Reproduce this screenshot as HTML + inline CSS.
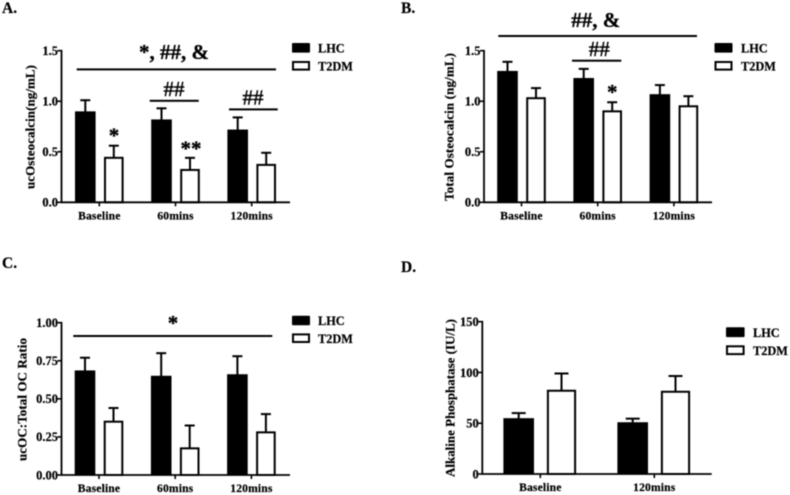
<!DOCTYPE html>
<html lang="en">
<head>
<meta charset="utf-8">
<title>Osteocalcin charts</title>
<style>
html,body{margin:0;padding:0;background:#fff;width:790px;height:495px;overflow:hidden}
svg{display:block;filter:blur(0.4px)}
text{font-family:"Liberation Serif",serif;font-weight:bold;fill:#000;stroke:#000;stroke-width:.2px}
.tick{font-size:12.5px}
.cat{font-size:11.6px;letter-spacing:.15px}
.ttl{font-size:13px}
.leg{font-size:12.3px}
.pan{font-size:15.5px}
.sig{font-size:21px;font-weight:normal;stroke-width:.45px}
.sigb{font-size:21px;stroke-width:.3px}
</style>
</head>
<body>
<svg id="fig" width="790" height="495" viewBox="0 0 790 495" xmlns="http://www.w3.org/2000/svg">
  <rect width="790" height="495" fill="#fff"/>

  <text class="pan" x="2" y="13">A.</text>
  <text class="pan" x="401" y="13">B.</text>
  <text class="pan" x="2" y="268">C.</text>
  <text class="pan" x="401" y="272">D.</text>

  <text class="ttl" transform="translate(34.5,189) rotate(-90)" textLength="124" lengthAdjust="spacing">ucOsteocalcin(ng/mL)</text>
  <text class="ttl" transform="translate(453.5,201) rotate(-90)" textLength="148" lengthAdjust="spacing">Total Osteocalcin (ng/mL)</text>
  <text class="ttl" transform="translate(26.5,461) rotate(-90)" textLength="123" lengthAdjust="spacing">ucOC:Total OC Ratio</text>
  <text class="ttl" transform="translate(454.5,477) rotate(-90)" textLength="158" lengthAdjust="spacing">Alkaline Phosphatase (IU/L)</text>

  <g>
    <rect x="292" y="43" width="18" height="9.6" rx="1" fill="#000"/>
    <text class="leg" x="318" y="52.5">LHC</text>
    <rect x="293" y="62" width="16" height="7.6" fill="#fff" stroke="#000" stroke-width="2"/>
    <text class="leg" x="318" y="70.5">T2DM</text>
  </g>
  <g>
    <rect x="714.5" y="43" width="18" height="9.6" rx="1" fill="#000"/>
    <text class="leg" x="741" y="52.5">LHC</text>
    <rect x="715.5" y="62" width="16" height="7.6" fill="#fff" stroke="#000" stroke-width="2"/>
    <text class="leg" x="741" y="70.5">T2DM</text>
  </g>
  <g>
    <rect x="292" y="315.7" width="18" height="9.6" rx="1" fill="#000"/>
    <text class="leg" x="318" y="325">LHC</text>
    <rect x="293" y="334.4" width="16" height="7.6" fill="#fff" stroke="#000" stroke-width="2"/>
    <text class="leg" x="318" y="343">T2DM</text>
  </g>
  <g>
    <rect x="726" y="327.3" width="18.6" height="9.8" rx="1" fill="#000"/>
    <text class="leg" x="753" y="337">LHC</text>
    <rect x="727" y="346.3" width="16.6" height="7.8" fill="#fff" stroke="#000" stroke-width="2"/>
    <text class="leg" x="753" y="355">T2DM</text>
  </g>

  <g>
    <text class="sigb" x="174" y="59" text-anchor="middle">*, ##, &amp;</text>
    <rect x="76.7" y="68.4" width="199.3" height="2" fill="#000"/>
    <text class="sig" x="174" y="96" text-anchor="middle">##</text>
    <rect x="149.7" y="99.8" width="49" height="2" fill="#000"/>
    <text class="sig" x="253" y="104.5" text-anchor="middle">##</text>
    <rect x="229" y="108.4" width="48.7" height="2" fill="#000"/>
    <text class="sigb" x="114" y="142.5" text-anchor="middle">*</text>
    <text class="sigb" x="191" y="155.5" text-anchor="middle">**</text>
  </g>
  <g>
    <text class="sigb" x="595.7" y="27" text-anchor="middle">##, &amp;</text>
    <rect x="498.3" y="35" width="198.7" height="2" fill="#000"/>
    <text class="sig" x="599.3" y="56" text-anchor="middle">##</text>
    <rect x="572" y="59.7" width="49.3" height="2" fill="#000"/>
    <text class="sigb" x="612.3" y="98.8" text-anchor="middle">*</text>
  </g>
  <g>
    <text class="sigb" x="173" y="330.2" text-anchor="middle">*</text>
    <rect x="73.3" y="335" width="199" height="2" fill="#000"/>
  </g>
</svg>
<script>
const categoriesA = ['Baseline', '60mins', '120mins'];
const lhcA = [0.89, 0.81, 0.71];
const lhcErrA = [0.12, 0.12, 0.13];
const t2dmA = [0.44, 0.32, 0.37];
const t2dmErrA = [0.12, 0.12, 0.12];
const ticksA = ['0.0', '0.5', '1.0', '1.5'];

const categoriesB = ['Baseline', '60mins', '120mins'];
const lhcB = [1.29, 1.22, 1.06];
const lhcErrB = [0.10, 0.10, 0.10];
const t2dmB = [1.03, 0.90, 0.95];
const t2dmErrB = [0.10, 0.09, 0.10];
const ticksB = ['0.0', '0.5', '1.0', '1.5'];

const categoriesC = ['Baseline', '60mins', '120mins'];
const lhcC = [0.68, 0.645, 0.655];
const lhcErrC = [0.09, 0.155, 0.125];
const t2dmC = [0.35, 0.175, 0.28];
const t2dmErrC = [0.09, 0.15, 0.12];
const ticksC = ['0.00', '0.25', '0.50', '0.75', '1.00'];

const categoriesD = ['Baseline', '120mins'];
const lhcD = [54, 50];
const lhcErrD = [6, 4.5];
const t2dmD = [82, 81];
const t2dmErrD = [17, 15.5];
const ticksD = ['0', '50', '100', '150'];

const NS = 'http://www.w3.org/2000/svg';
const fig = document.getElementById('fig');

function make(parent, tag, attrs) {
  const el = document.createElementNS(NS, tag);
  for (const k in attrs) el.setAttribute(k, attrs[k]);
  parent.appendChild(el);
  return el;
}

function drawPanel(id, cfg, cats, lhc, lhcErr, t2dm, t2dmErr, ticks) {
  const g = make(fig, 'g', {});
  
  

  const yMax = parseFloat(ticks[ticks.length - 1]);
  const yScale = v => cfg.bottom - (v / yMax) * (cfg.bottom - cfg.top);
  const xScale = i => cfg.firstX + i * cfg.stepX;

  cats.forEach((cat, i) => {
    const cx = xScale(i);

    const drawBar = (val, err, series, off, w, filled) => {
      const top = yScale(val);
      const errTop = yScale(val + err);
      const bx = cx + off;

      const stem = make(g, 'line', {x1: bx, x2: bx, y1: errTop, y2: top, stroke: '#000', 'stroke-width': 2});
      
      

      const cap = make(g, 'line', {x1: bx - cfg.cap / 2, x2: bx + cfg.cap / 2, y1: errTop, y2: errTop, stroke: '#000', 'stroke-width': 2});
      
      

      let bar;
      if (filled) {
        bar = make(g, 'rect', {x: bx - w / 2, y: top - 1, width: w, height: cfg.bottom - top + 1, fill: '#000'});
      } else {
        bar = make(g, 'rect', {x: bx - w / 2 + 1, y: top, width: w - 2, height: cfg.bottom - top, fill: '#fff', stroke: '#000', 'stroke-width': 2});
      }
      
      
    };

    drawBar(lhc[i], lhcErr[i], 'lhc', cfg.offL, cfg.wL, true);
    drawBar(t2dm[i], t2dmErr[i], 't2dm', cfg.offT, cfg.wT, false);

    const tick = make(g, 'line', {x1: cx, x2: cx, y1: cfg.bottom, y2: cfg.bottom + 4, stroke: '#000', 'stroke-width': 1.6});
    
    

    const label = make(g, 'text', {x: cx, y: cfg.catY, 'text-anchor': 'middle', class: 'cat'});
    label.textContent = cat;
    
    
  });

  ticks.forEach(t => {
    const y = yScale(parseFloat(t));
    const tick = make(g, 'line', {x1: cfg.axisX - 4, x2: cfg.axisX, y1: y, y2: y, stroke: '#000', 'stroke-width': 1.6});
    
    

    const label = make(g, 'text', {x: cfg.axisX - 3.5, y: y + 4.3, 'text-anchor': 'end', class: 'tick'});
    label.textContent = t;
    
    
  });

  const yAxis = make(g, 'line', {x1: cfg.axisX, x2: cfg.axisX, y1: cfg.top - 0.8, y2: cfg.bottom + 0.8, stroke: '#000', 'stroke-width': 1.8});
  
  

  const xAxis = make(g, 'line', {x1: cfg.axisX, x2: cfg.endX, y1: cfg.bottom, y2: cfg.bottom, stroke: '#000', 'stroke-width': 1.8});
  
  
}

drawPanel('a', {axisX: 61.5, endX: 290, top: 50.7, bottom: 202.3, firstX: 99.3, stepX: 76.2, offL: -14, offT: 14.5, wL: 20.6, wT: 19.6, cap: 10, catY: 219.5}, categoriesA, lhcA, lhcErrA, t2dmA, t2dmErrA, ticksA);
drawPanel('b', {axisX: 484, endX: 712, top: 50.7, bottom: 202.3, firstX: 521.5, stepX: 76.2, offL: -14, offT: 14.5, wL: 20.6, wT: 19.6, cap: 10, catY: 219.5}, categoriesB, lhcB, lhcErrB, t2dmB, t2dmErrB, ticksB);
drawPanel('c', {axisX: 61.5, endX: 290, top: 322.7, bottom: 475, firstX: 99, stepX: 76.2, offL: -14, offT: 14.5, wL: 20.6, wT: 19.6, cap: 10, catY: 492}, categoriesC, lhcC, lhcErrC, t2dmC, t2dmErrC, ticksC);
drawPanel('d', {axisX: 482.3, endX: 711.7, top: 321.7, bottom: 474, firstX: 540.3, stepX: 114, offL: -21.6, offT: 21.2, wL: 30.6, wT: 29.2, cap: 14, catY: 491}, categoriesD, lhcD, lhcErrD, t2dmD, t2dmErrD, ticksD);
</script>
</body>
</html>
